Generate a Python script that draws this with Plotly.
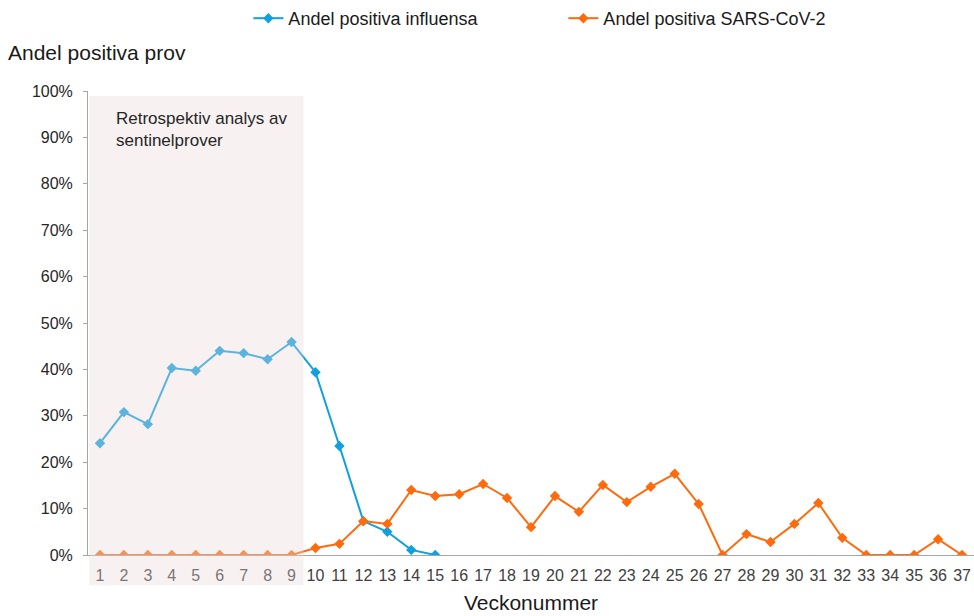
import plotly.graph_objects as go

veckor = list(range(1, 38))

influensa = [24.1, 30.8, 28.2, 40.3, 39.7, 44.0, 43.5, 42.2, 45.9, 39.4,
             23.5, 7.3, 5.0, 1.1, 0.0]

sars_cov_2 = [0, 0, 0, 0, 0, 0, 0, 0, 0, 1.5,
              2.4, 7.3, 6.7, 14.0, 12.7, 13.1, 15.3, 12.3, 6.0, 12.7,
              9.3, 15.1, 11.4, 14.7, 17.5, 11.0, 0.0, 4.5, 2.8, 6.7,
              11.2, 3.7, 0.0, 0.0, 0.0, 3.4, 0.0]

FONT = "Liberation Sans, Arial, sans-serif"

fig = go.Figure()

fig.add_trace(go.Scatter(
    x=veckor[:len(influensa)],
    y=influensa,
    mode='lines+markers',
    name='Andel positiva influensa',
    line=dict(color='#10a0df', width=2),
    marker=dict(symbol='diamond', size=8, color='#10a0df')
))

fig.add_trace(go.Scatter(
    x=veckor,
    y=sars_cov_2,
    mode='lines+markers',
    name='Andel positiva SARS-CoV-2',
    line=dict(color='#ff6a0d', width=2),
    marker=dict(symbol='diamond', size=8, color='#ff6a0d')
))

# retrospektiv period, ljus överlagring ovanpå linjerna
fig.add_shape(
    type='rect', xref='x', yref='paper',
    x0=0.55, x1=9.5, y0=-0.065, y1=0.989,
    fillcolor='rgba(235,215,218,0.35)', line_width=0, layer='above'
)

fig.add_annotation(
    x=1.6, y=0.965, xref='x', yref='paper',
    text='Retrospektiv analys av<br>sentinelprover',
    showarrow=False, xanchor='left', yanchor='top', align='left',
    font=dict(family=FONT, size=17, color='#262626')
)

fig.add_annotation(
    x=-0.0925, y=1.083, xref='paper', yref='paper',
    text='Andel positiva prov', showarrow=False, xanchor='left', yanchor='middle',
    font=dict(family=FONT, size=21, color='#1a1a1a')
)

fig.update_layout(
    width=974, height=616,
    margin=dict(l=88, r=0, t=91, b=61, autoexpand=False),
    plot_bgcolor='white', paper_bgcolor='white',
    font=dict(family=FONT, size=16, color='#404040'),
    showlegend=True,
    legend=dict(
        orientation='h', xref='container', yref='container',
        x=0.255, xanchor='left', y=0.97, yanchor='middle',
        font=dict(family=FONT, size=18, color='#1a1a1a'),
        itemwidth=30, tracegroupgap=0, entrywidth=270
    ),
    xaxis=dict(
        range=[0.5, 37.5], tickvals=veckor, ticks='', showgrid=False,
        showline=True, linecolor='#a6a6a6', linewidth=1, zeroline=False,
        automargin=False, ticklabelstandoff=6,
        tickfont=dict(size=16, color='#404040'),
        title=dict(text='Veckonummer', font=dict(family=FONT, size=21, color='#1a1a1a'),
                   standoff=12)
    ),
    yaxis=dict(
        range=[0, 100], dtick=10, ticksuffix='%', ticks='outside', ticklen=4,
        tickcolor='#a6a6a6', showgrid=False, showline=True, linecolor='#a6a6a6',
        linewidth=1, zeroline=False, automargin=False, ticklabelstandoff=7,
        tickfont=dict(size=16, color='#262626')
    )
)

fig.write_html("out.html", config={'displayModeBar': False},
               post_script="document.body.style.margin='0';")
